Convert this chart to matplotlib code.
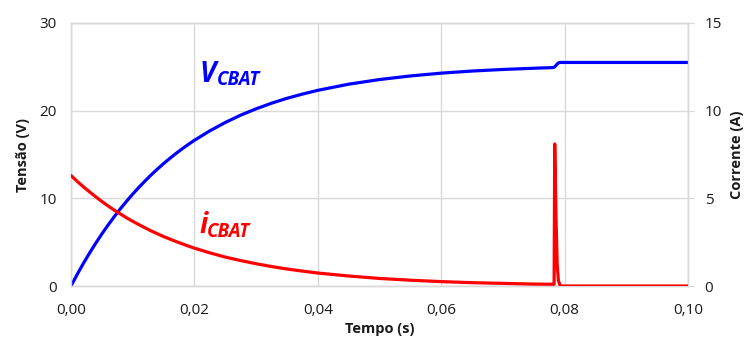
import matplotlib
matplotlib.use("Agg")
import matplotlib.pyplot as plt
from matplotlib.ticker import FuncFormatter

plt.rcParams['font.family'] = ['Open Sans', 'DejaVu Sans']

# Battery-capacitor voltage (V) and current (A) over time (s)
t_v = [0.0, 0.001, 0.002, 0.003, 0.004, 0.005, 0.006, 0.007, 0.008, 0.009,
       0.010, 0.011, 0.012, 0.013, 0.014, 0.015, 0.016, 0.017, 0.018, 0.019,
       0.020, 0.0225, 0.025, 0.0275, 0.030, 0.0325, 0.035, 0.0375, 0.040,
       0.045, 0.050, 0.055, 0.060, 0.065, 0.070, 0.075,
       0.078, 0.0783, 0.0786, 0.0789, 0.0792, 0.10]
v_cbat = [0.0, 1.32, 2.57, 3.75, 4.87, 5.94, 6.94, 7.90, 8.81, 9.66,
          10.48, 11.25, 11.98, 12.68, 13.33, 13.96, 14.55, 15.11, 15.64, 16.14,
          16.62, 17.70, 18.65, 19.49, 20.21, 20.85, 21.41, 21.89, 22.32,
          23.02, 23.55, 23.96, 24.28, 24.52, 24.70, 24.84,
          24.91, 24.95, 25.15, 25.40, 25.50, 25.50]

t_i = [0.0, 0.001, 0.002, 0.003, 0.004, 0.005, 0.006, 0.007, 0.008, 0.009,
       0.010, 0.011, 0.012, 0.013, 0.014, 0.015, 0.016, 0.017, 0.018, 0.019,
       0.020, 0.0225, 0.025, 0.0275, 0.030, 0.0325, 0.035, 0.0375, 0.040,
       0.045, 0.050, 0.055, 0.060, 0.065, 0.070, 0.075,
       0.078, 0.0783, 0.0784, 0.0786, 0.0788, 0.0790, 0.0793, 0.10]
i_cbat = [6.30, 5.97, 5.66, 5.37, 5.09, 4.82, 4.57, 4.33, 4.11, 3.89,
          3.69, 3.50, 3.32, 3.14, 2.98, 2.82, 2.68, 2.54, 2.41, 2.28,
          2.16, 1.89, 1.65, 1.45, 1.27, 1.11, 0.97, 0.85, 0.74,
          0.57, 0.43, 0.33, 0.25, 0.19, 0.15, 0.11,
          0.10, 0.10, 8.10, 4.00, 1.20, 0.30, 0.00, 0.00]

x_ticks = [0.00, 0.02, 0.04, 0.06, 0.08, 0.10]
v_ticks = [0, 10, 20, 30]
i_ticks = [0, 5, 10, 15]

text_col = '#1a1a1a'
grid_col = '#d9d9d9'
blue = '#0000ff'
red = '#ff0000'

fig = plt.figure(figsize=(7.46, 3.45), dpi=100)
ax = fig.add_axes([71/746, 1 - 286/345, (688 - 71)/746, (286 - 23)/345])
ax2 = ax.twinx()

ax.plot(t_v, v_cbat, color=blue, lw=2.3, solid_joinstyle='round',
        solid_capstyle='round', zorder=3)
ax2.plot(t_i, i_cbat, color=red, lw=2.3, solid_joinstyle='round',
         solid_capstyle='round', zorder=3)

ax.set_xlim(0, 0.10)
ax.set_ylim(0, 30)
ax2.set_ylim(0, 15)
ax.set_xticks(x_ticks)
ax.set_yticks(v_ticks)
ax2.set_yticks(i_ticks)
ax.xaxis.set_major_formatter(FuncFormatter(lambda v, p: f"{v:.2f}".replace('.', ',')))

ax.grid(True, color=grid_col, lw=1.0)
ax.set_axisbelow(True)
for a in (ax, ax2):
    for s in a.spines.values():
        s.set_color(grid_col)
        s.set_linewidth(1.0)
ax.tick_params(axis='x', length=0, labelsize=11, colors=text_col, pad=12)
ax.tick_params(axis='y', length=0, labelsize=11, colors=text_col, pad=10)
ax2.tick_params(axis='y', length=4, color=grid_col, labelsize=11,
                labelcolor=text_col, pad=8)

ax.set_xlabel('Tempo (s)', fontsize=10.5, fontweight='bold', color=text_col, labelpad=3)
ax.set_ylabel('Tensão (V)', fontsize=10.5, fontweight='bold', color=text_col, labelpad=7)
ax2.set_ylabel('Corrente (A)', fontsize=10.5, fontweight='bold', color=text_col, labelpad=6)

# Curve labels: large italic symbol with a smaller subscript
lab = dict(fontstyle='italic', fontweight='bold', va='baseline', ha='left')
ax.text(0.0209, 23.3, 'V', color=blue, fontsize=20, **lab)
ax.text(0.0236, 22.95, 'CBAT', color=blue, fontsize=13.5, **lab)
ax.text(0.0209, 6.0, 'i', color=red, fontsize=20, **lab)
ax.text(0.0220, 5.6, 'CBAT', color=red, fontsize=13.5, **lab)

fig.savefig('out.png', dpi=100)
